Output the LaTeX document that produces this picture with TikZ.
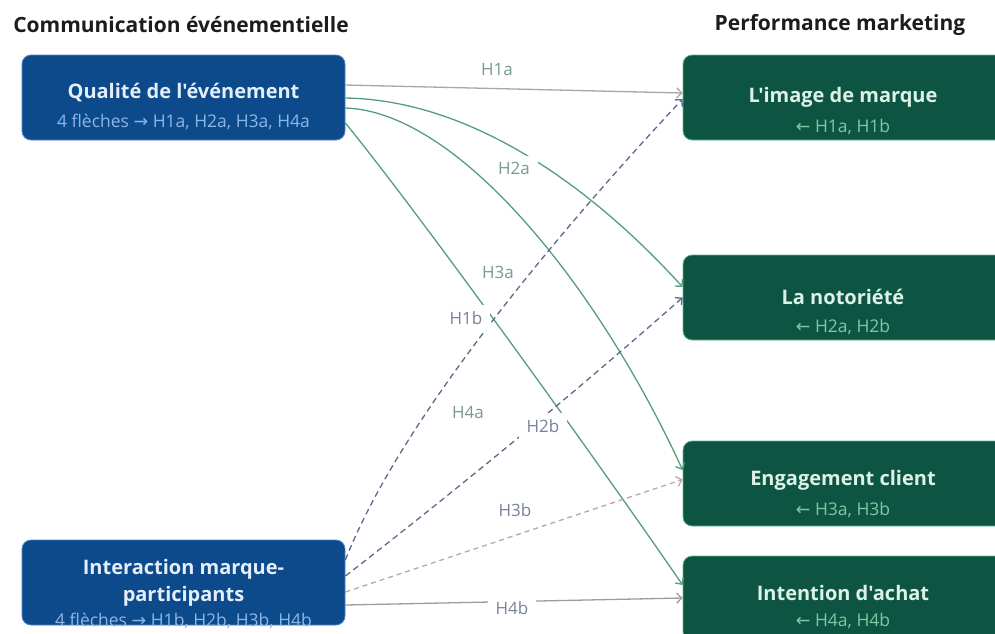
\documentclass[tikz,border=0pt]{standalone}
\usepackage{fontspec}
\setmainfont{Open Sans}[Ligatures=TeXOff]
\newfontfamily\symfont{DejaVu Sans}
\usetikzlibrary{arrows.meta}

\definecolor{srcfill}{HTML}{0C4A8B}
\definecolor{srcedge}{HTML}{4F86C9}
\definecolor{srctext}{HTML}{E4EEF9}
\definecolor{srcsubtext}{HTML}{8DB6E8}
\definecolor{dstfill}{HTML}{0D5443}
\definecolor{dstedge}{HTML}{62B596}
\definecolor{dsttext}{HTML}{DCF2E7}
\definecolor{dstsubtext}{HTML}{7EC8A4}
\definecolor{headtext}{HTML}{1C1C1C}
\definecolor{lnred}{HTML}{ADA2A5}
\definecolor{lngreen}{HTML}{559C80}
\definecolor{lnslate}{HTML}{5B6A8B}
\definecolor{lnpink}{HTML}{BBA3AF}
\definecolor{lngray}{HTML}{9C9C9C}
\definecolor{lbla}{HTML}{789B8C}
\definecolor{lblb}{HTML}{78829A}

\tikzset{
  srcbox/.style={rectangle, rounded corners=9pt, minimum width=323pt, minimum height=85pt,
    inner sep=0pt, fill=srcfill, draw=srcedge, line width=0.8pt},
  dstbox/.style={rectangle, rounded corners=9pt, minimum width=323pt, minimum height=85pt,
    inner sep=0pt, fill=dstfill, draw=dstedge, line width=0.8pt},
  heading/.style={font=\fontsize{21}{25}\selectfont\bfseries, text=headtext, inner sep=0pt},
  srctitle/.style={font=\fontsize{20}{27}\selectfont\bfseries, text=srctext, align=center, inner sep=0pt},
  srcsub/.style={font=\fontsize{17.5}{20}\selectfont, text=srcsubtext, inner sep=0pt},
  dsttitle/.style={font=\fontsize{20}{24}\selectfont\bfseries, text=dsttext, inner sep=0pt},
  dstsub/.style={font=\fontsize{17.5}{20}\selectfont, text=dstsubtext, inner sep=0pt},
  link/.style={line width=1.3pt, -{Straight Barb[length=5pt,width=10pt]}},
  linkA/.style={link, draw=lngreen},
  dashB/.style={link, draw=lnslate, dash pattern=on 6pt off 4pt},
  hyp/.style={font=\fontsize{17}{20}\selectfont, fill=white, inner xsep=8pt, inner ysep=6pt},
  hypA/.style={hyp, text=lbla},
  hypB/.style={hyp, text=lblb},
}

\begin{document}
\begin{tikzpicture}[x=1pt, y=-1pt]
\useasboundingbox (0,0) rectangle (995,633);
\clip (0,0) rectangle (995,633);

% column headings
\node[heading] (hleft) at (181,25) {Communication événementielle};
\node[heading] (hright) at (840,25) {Performance marketing};

% boxes
\node[srcbox] (qual) at (183.5,97.5) {};
\node[srcbox] (inter) at (183.5,582.5) {};
\node[dstbox] (img) at (844.5,97.5) {};
\node[dstbox] (noto) at (844.5,297.5) {};
\node[dstbox] (eng) at (844.5,483.5) {};
\node[dstbox] (achat) at (844.5,598.5) {};

% hypotheses from the quality of the event
\draw[link, draw=lnred] ([yshift=12.5pt]qual.east) -- ([yshift=4.5pt]img.west);
\draw[linkA] ([yshift=-0.5pt]qual.east) .. controls (470,100) and (590,185) .. ([yshift=10.5pt]noto.west);
\draw[linkA] ([yshift=-10.5pt]qual.east) .. controls (460,112) and (600,290) .. ([yshift=13.5pt]eng.west);
\draw[linkA] ([yshift=-25.5pt]qual.east) .. controls (425,221) and (603,469) .. ([yshift=13.5pt]achat.west);

% hypotheses from the brand-participant interaction
\draw[dashB] ([yshift=22.5pt]inter.east) .. controls (400,420) and (560,230) .. ([yshift=-1.5pt]img.west);
\draw[dashB] ([yshift=6.5pt]inter.east) .. controls (450,495) and (570,397) .. ([yshift=0pt]noto.west);
\draw[link, draw=lnpink, dash pattern=on 5pt off 4pt] ([yshift=-9.5pt]inter.east) -- ([yshift=4pt]eng.west);
\draw[link, draw=lngray] ([yshift=-22.5pt]inter.east) -- ([yshift=0.5pt]achat.west);

% hypothesis labels
\node[hypA] (l1a) at (497,70) {H1a};
\node[hypA] (l2a) at (514,168) {H2a};
\node[hypA] (l3a) at (498,272) {H3a};
\node[hypA] (l4a) at (468,412) {H4a};
\node[hypB] (l1b) at (466,318) {H1b};
\node[hypB] (l2b) at (543,426) {H2b};
\node[hypB] (l3b) at (515,510) {H3b};
\node[hypB] (l4b) at (512,608) {H4b};

% box texts
\node[srctitle] (qualT) at (183.5,93) {Qualité de l'événement};
\node[srcsub] (qualS) at (183.5,122) {4 flèches {\symfont →} H1a, H2a, H3a, H4a};
\node[srctitle] (interT) at (183.5,583) {Interaction marque-\\participants};
\node[srcsub] (interS) at (183.5,621) {4 flèches {\symfont →} H1b, H2b, H3b, H4b};

\node[dsttitle] (imgT) at (843,97) {L'image de marque};
\node[dstsub] (imgS) at (843,127) {{\symfont ←} H1a, H1b};
\node[dsttitle] (notoT) at (843,297) {La notoriété};
\node[dstsub] (notoS) at (843,327) {{\symfont ←} H2a, H2b};
\node[dsttitle] (engT) at (843,480) {Engagement client};
\node[dstsub] (engS) at (843,510) {{\symfont ←} H3a, H3b};
\node[dsttitle] (achatT) at (843,593) {Intention d'achat};
\node[dstsub] (achatS) at (843,621) {{\symfont ←} H4a, H4b};
\end{tikzpicture}
\end{document}
